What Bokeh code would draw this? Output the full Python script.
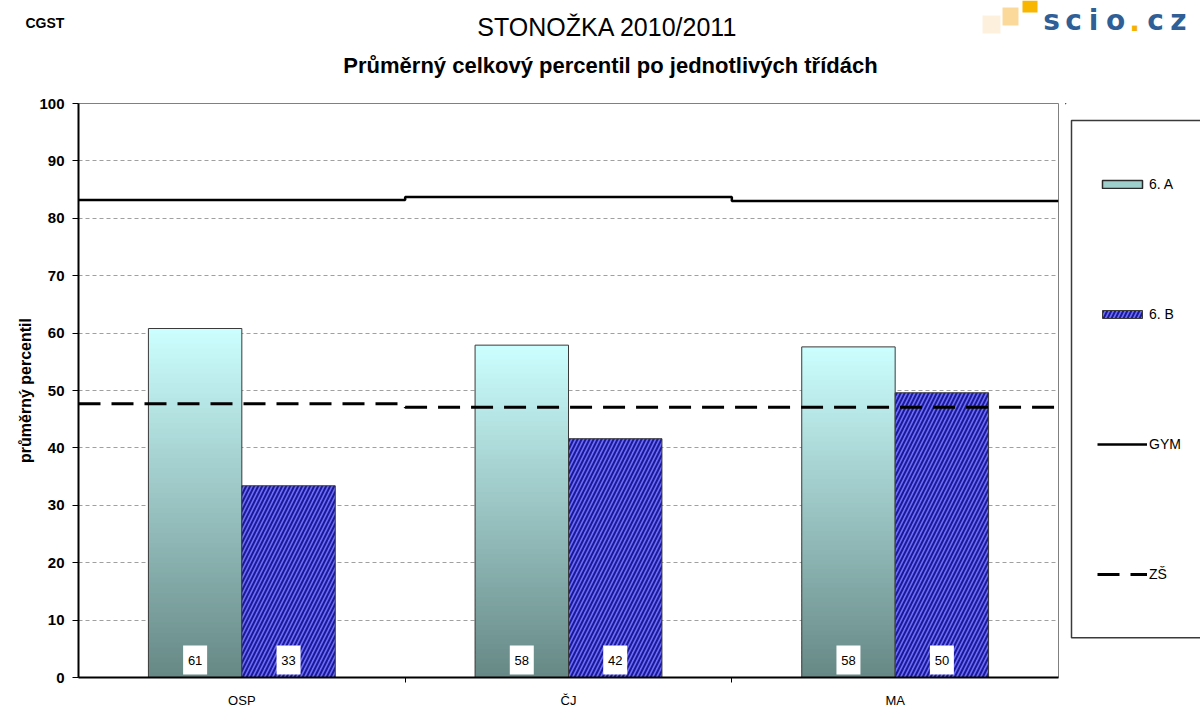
import numpy as np
from bokeh.plotting import figure
from bokeh.layouts import column, row
from bokeh.models import Range1d, FixedTicker, Legend, LegendItem, ColumnDataSource
from bokeh.core.properties import value
from bokeh.embed import file_html
from bokeh.resources import INLINE

# ---------------- data ----------------
categories = ["OSP", "ČJ", "MA"]
class_a = [60.8, 57.9, 57.6]      # 6. A
class_b = [33.4, 41.6, 49.6]      # 6. B
gym = [83.2, 83.7, 83.0]          # GYM
zs = [47.7, 47.1, 47.1]           # ZŠ
y_ticks = list(range(0, 101, 10))
series_names = ["6. A", "6. B", "GYM", "ZŠ"]
title_text = "STONOŽKA 2010/2011"
subtitle_text = "Průměrný celkový percentil po jednotlivých třídách"
corner_text = "CGST"
y_label = "průměrný percentil"

FONT = "Liberation Sans"
TOTAL_W, TOTAL_H = 1200, 710
HEAD_H = 92
MAIN_W = 1065
LEG_W = TOTAL_W - MAIN_W
BODY_H = TOTAL_H - HEAD_H
FRAME_TOP, FRAME_BOTTOM = 103, 680   # page pixels of the plotting frame

# ---- colours / styles ----
A_BOTTOM = np.array([0x66, 0x88, 0x85], dtype=float)
A_TOP = np.array([0xcc, 0xff, 0xff], dtype=float)
B_FILL, B_HATCH = "#6d6dfb", "#1a1a96"
EDGE = "#3a3a3a"

# ================= header figure =================
h = figure(width=TOTAL_W, height=HEAD_H, x_range=Range1d(0, TOTAL_W), y_range=Range1d(HEAD_H, 0),
           output_backend="svg", toolbar_location=None, min_border=0,
           x_axis_location=None, y_axis_location=None)
h.grid.visible = False
h.outline_line_color = None
h.background_fill_color = "white"
h.border_fill_color = "white"
h.text(x=[25], y=[22], text=[corner_text], text_font=value(FONT), text_font_style="bold",
       text_font_size="14px", text_baseline="middle", text_align="left", text_color="black")
h.text(x=[607], y=[26], text=[title_text], text_font=value(FONT), text_font_size="25px",
       text_baseline="middle", text_align="center", text_color="black")
h.text(x=[610], y=[65], text=[subtitle_text], text_font=value(FONT), text_font_style="bold",
       text_font_size="22px", text_baseline="middle", text_align="center", text_color="black")
# logo
h.quad(left=[982, 1002, 1022], right=[1000, 1018, 1037], top=[15, 7, 0], bottom=[33, 25, 12],
       fill_color=["#fdf1de", "#fbd99b", "#f8b600"], line_color=None)
logo_chars = list("scio.cz")
h.text(x=[1051, 1073, 1093, 1115, 1134, 1155, 1178], y=[20] * 7, text=logo_chars,
       text_font=value("DejaVu Sans"), text_font_style="bold", text_font_size="28px",
       text_baseline="middle", text_align="center",
       text_color=["#f5b000" if c == "." else "#2f5f96" for c in logo_chars])

# ================= main chart =================
p = figure(width=MAIN_W, height=BODY_H, x_range=Range1d(0, len(categories)), y_range=Range1d(0, 100),
           output_backend="svg", toolbar_location=None,
           min_border_left=78, min_border_right=7, min_border_top=FRAME_TOP - HEAD_H,
           min_border_bottom=TOTAL_H - FRAME_BOTTOM)
p.background_fill_color = "white"
p.border_fill_color = "white"
p.outline_line_color = "#808080"
p.outline_line_width = 1

xs = np.arange(len(categories)) + 0.5
bw = 0.286

# 6. A bars with vertical gradient (thin strips)
N = 70
strips = dict(left=[], right=[], bottom=[], top=[], color=[])
for xc, v in zip(xs, class_a):
    for k in range(N):
        t = (k + 0.5) / N
        c = A_BOTTOM + (A_TOP - A_BOTTOM) * t
        strips["left"].append(xc - bw)
        strips["right"].append(xc)
        strips["bottom"].append(v * k / N)
        strips["top"].append(min(v, v * (k + 1.6) / N))
        strips["color"].append("#%02x%02x%02x" % tuple(int(round(q)) for q in c))
p.quad(left="left", right="right", bottom="bottom", top="top", fill_color="color",
       line_color=None, source=ColumnDataSource(strips))
p.vbar(x=xs - bw / 2, top=class_a, width=bw, fill_alpha=0, line_color=EDGE, line_width=1)

B_STYLE = dict(fill_color=B_FILL, line_color=EDGE, line_width=1, hatch_pattern="right_diagonal_line",
               hatch_color=B_HATCH, hatch_weight=2, hatch_scale=8)
GYM_STYLE = dict(line_color="black", line_width=2.5)
ZS_STYLE = dict(line_color="black", line_width=3, line_dash="22 11")

p.vbar(x=xs + bw / 2, top=class_b, width=bw, **B_STYLE)

x_edges = np.arange(len(categories) + 1)
p.step(x_edges, gym + [gym[-1]], mode="after", **GYM_STYLE)
p.step(x_edges, zs + [zs[-1]], mode="after", **ZS_STYLE)

# value labels at bar bottoms
lab_x = np.concatenate([xs - bw / 2, xs + bw / 2])
lab_t = ["%.0f" % v for v in class_a] + ["%.0f" % v for v in class_b]
lab_y = 17.5 * 100 / 577
p.rect(x=lab_x, y=lab_y, width=24, height=29, width_units="screen", height_units="screen",
       fill_color="white", line_color=None)
p.text(x=lab_x, y=lab_y, text=lab_t, text_align="center", text_baseline="middle",
       text_font=value(FONT), text_font_size="13px", text_color="black")

# axes
p.yaxis.ticker = FixedTicker(ticks=y_ticks)
p.yaxis.axis_line_width = 2
p.yaxis.axis_line_color = "black"
p.yaxis.major_tick_out = 6
p.yaxis.major_tick_in = 0
p.yaxis.major_tick_line_color = "black"
p.yaxis.minor_tick_line_color = None
p.yaxis.major_label_text_font = FONT
p.yaxis.major_label_text_font_style = "bold"
p.yaxis.major_label_text_font_size = "15px"
p.yaxis.major_label_text_color = "black"
p.yaxis.major_label_standoff = 8
p.yaxis.axis_label = y_label
p.yaxis.axis_label_text_font = FONT
p.yaxis.axis_label_text_font_style = "bold"
p.yaxis.axis_label_text_font_size = "16px"
p.yaxis.axis_label_text_color = "black"
p.yaxis.axis_label_standoff = 2

p.xaxis.ticker = FixedTicker(ticks=list(xs), minor_ticks=list(range(1, len(categories))))
p.xaxis.major_label_overrides = {float(x): c for x, c in zip(xs, categories)}
p.xaxis.axis_line_width = 2
p.xaxis.axis_line_color = "black"
p.xaxis.major_tick_out = 0
p.xaxis.major_tick_in = 0
p.xaxis.minor_tick_out = 5
p.xaxis.minor_tick_in = 0
p.xaxis.minor_tick_line_color = "black"
p.xaxis.major_label_text_font = FONT
p.xaxis.major_label_text_font_size = "13px"
p.xaxis.major_label_text_color = "black"
p.xaxis.major_label_standoff = 10

p.xgrid.visible = False
p.ygrid.ticker = FixedTicker(ticks=y_ticks[1:-1])
p.ygrid.grid_line_color = "#a0a0a0"
p.ygrid.grid_line_dash = "4 3"
p.ygrid.grid_line_width = 1

# ================= legend panel =================
# its frame is aligned with the main frame (page y 103..680); ranges in page pixels
lg = figure(width=LEG_W, height=BODY_H, x_range=Range1d(MAIN_W, TOTAL_W),
            y_range=Range1d(FRAME_BOTTOM, FRAME_TOP), output_backend="svg", toolbar_location=None,
            min_border=0, x_axis_location=None, y_axis_location=None)
lg.grid.visible = False
lg.outline_line_color = None
lg.background_fill_color = "white"
lg.border_fill_color = "white"
# legend frame box (runs off the right edge as in the reference)
lg.quad(left=[1071], right=[1260], top=[120], bottom=[640], fill_alpha=0,
        line_color=EDGE, line_width=1.5)
# legend proxies: same data, lying outside this panel's ranges (not visible)
ka = lg.vbar(x=xs, top=class_a, width=bw, fill_color="#9ecfcc", line_color="#2a2a2a", line_width=1.5)
kb = lg.vbar(x=xs, top=class_b, width=bw, **B_STYLE)
kg = lg.step(x_edges, gym + [gym[-1]], mode="after", **GYM_STYLE)
kz = lg.step(x_edges, zs + [zs[-1]], mode="after", **ZS_STYLE)
legend = Legend(items=[LegendItem(label=n, renderers=[r]) for n, r in zip(series_names, [ka, kb, kg, kz])],
                location=(32, 95), orientation="vertical",
                glyph_width=50, glyph_height=10, label_height=16, spacing=114,
                padding=0, margin=0, border_line_alpha=0, background_fill_alpha=0,
                label_standoff=2, label_text_font=FONT, label_text_font_size="14px",
                label_text_color="black")
lg.add_layout(legend)

layout = column(h, row(p, lg, spacing=0), spacing=0)
open("out.html", "w").write(file_html(layout, INLINE))
